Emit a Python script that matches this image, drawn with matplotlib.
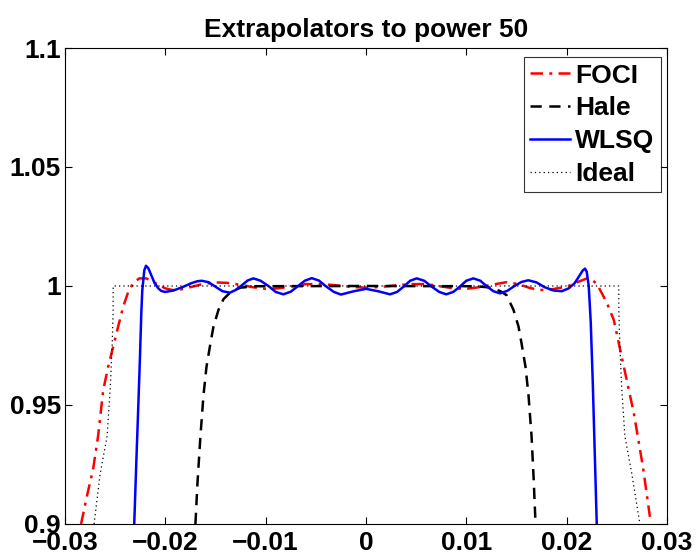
import matplotlib
matplotlib.use("Agg")
import matplotlib.pyplot as plt

plt.rcParams['font.family'] = ['Liberation Sans', 'DejaVu Sans']
plt.rcParams['font.weight'] = 'bold'

# FOCI extrapolator (red dash-dot)
foci_x = [-0.0284, -0.0278, -0.0272, -0.0267, -0.0262, -0.0257, -0.0252, -0.0247, -0.0242,
          -0.0237, -0.0232, -0.0226, -0.0219, -0.0213, -0.0207, -0.0200, -0.0193, -0.0185,
          -0.0175, -0.0163, -0.0150, -0.0138, -0.0125, -0.0113, -0.0100, -0.0088, -0.0075,
          -0.0060, -0.0045, -0.0030, -0.0015, 0.0,
          0.0015, 0.0030, 0.0045, 0.0060, 0.0075, 0.0088, 0.0100, 0.0113, 0.0125, 0.0140,
          0.0152, 0.0163, 0.0173, 0.0185, 0.0200, 0.0210, 0.0222, 0.0230, 0.0240, 0.0247,
          0.0257, 0.0267, 0.0276, 0.0283]
foci_y = [0.900, 0.912, 0.923, 0.937, 0.956, 0.966, 0.9745, 0.983, 0.9913,
          0.9975, 1.0013, 1.0032, 1.0032, 1.0020, 1.0004, 0.9990, 0.9983, 0.9985,
          0.9995, 1.0008, 1.0015, 1.0013, 1.0005, 0.9995, 0.9988, 0.9990, 0.9998,
          1.0008, 1.0008, 1.0003, 0.9996, 0.9993,
          0.9996, 1.0003, 1.0008, 1.0008, 0.9998, 0.9990, 0.9988, 0.9995, 1.0005, 1.0016,
          1.0008, 0.9992, 0.9983, 0.9986, 0.9997, 1.0015, 1.0035, 1.0010, 0.9930, 0.9857,
          0.9661, 0.9465, 0.9241, 0.9030]

# Hale extrapolator (black dashed)
hale_x = [-0.0170, -0.0168, -0.0165, -0.0162, -0.0159, -0.0155, -0.0152, -0.0147, -0.0142,
          -0.0134, -0.0125, -0.0110, 0.0,
          0.0110, 0.0125, 0.0134, 0.0140, 0.0147, 0.0152, 0.0155, 0.0159, 0.0162, 0.0165,
          0.0167, 0.0169]
hale_y = [0.900, 0.917, 0.937, 0.954, 0.966, 0.976, 0.983, 0.990, 0.9945,
          0.9978, 0.9993, 0.9999, 1.0,
          0.9999, 0.9993, 0.9978, 0.9962, 0.990, 0.983, 0.976, 0.966, 0.954, 0.937,
          0.920, 0.900]

# WLSQ extrapolator (blue solid)
wlsq_x = [-0.0231, -0.0229, -0.0227, -0.02253, -0.0224, -0.0223, -0.0221, -0.02193, -0.0217,
          -0.0214, -0.0211, -0.0207, -0.0204, -0.02003, -0.0192, -0.0183, -0.0174, -0.0168,
          -0.01638, -0.0157, -0.0150, -0.0143, -0.01356, -0.0130, -0.0124, -0.0118, -0.01123,
          -0.0105, -0.0097, -0.0090, -0.00824, -0.0075, -0.0068, -0.0061, -0.00541, -0.0047,
          -0.0040, -0.0032, -0.0025, -0.0012, 0.0,
          0.0012, 0.0024, 0.0031, 0.0038, 0.0044, 0.00505, 0.0058, 0.0065, 0.0073, 0.0080,
          0.0087, 0.0094, 0.0100, 0.0107, 0.0114, 0.0120, 0.0127, 0.01336, 0.0141, 0.0148,
          0.0155, 0.01618, 0.0170, 0.0178, 0.0187, 0.0195, 0.0202, 0.0208, 0.0213, 0.0216,
          0.02183, 0.0220, 0.0222, 0.0224, 0.0226, 0.0228, 0.0230]
wlsq_y = [0.900, 0.925, 0.949, 0.970, 0.988, 0.998, 1.0065, 1.0085, 1.0075,
          1.0045, 1.0015, 0.9990, 0.9979, 0.9975, 0.9981, 0.9995, 1.0012, 1.0020,
          1.0022, 1.0016, 0.9997, 0.9978, 0.9972, 0.9983, 1.0002, 1.0023, 1.0032,
          1.0022, 0.9999, 0.9975, 0.9965, 0.9976, 0.9999, 1.0022, 1.0033, 1.0023,
          0.9999, 0.9975, 0.9964, 0.9978, 0.9988,
          0.9978, 0.9965, 0.9975, 0.9999, 1.0022, 1.0032, 1.0022, 0.9999, 0.9975, 0.9965,
          0.9975, 0.9999, 1.0022, 1.0032, 1.0022, 1.0000, 0.9978, 0.9969, 0.9980, 1.0000,
          1.0017, 1.0024, 1.0015, 0.9995, 0.9981, 0.9978, 0.9990, 1.0012, 1.0045, 1.0065,
          1.0073, 1.0060, 1.0000, 0.985, 0.960, 0.930, 0.900]

# Ideal response (dotted)
ideal_x = [-0.0271, -0.0265, -0.0258, -0.02548, -0.0253, -0.0252, -0.0252,
           0.0252, 0.0252, 0.0253, 0.02548, 0.0258, 0.0265, 0.0273]
ideal_y = [0.900, 0.921, 0.937, 0.958, 0.975, 0.990, 1.000,
           1.000, 0.990, 0.975, 0.958, 0.937, 0.921, 0.900]

xticks = [-0.03, -0.02, -0.01, 0, 0.01, 0.02, 0.03]
xticklabels = ['\u22120.03', '\u22120.02', '\u22120.01', '0', '0.01', '0.02', '0.03']
yticks = [0.9, 0.95, 1.0, 1.05, 1.1]
yticklabels = ['0.9', '0.95', '1', '1.05', '1.1']

fig = plt.figure(figsize=(6.96, 5.55), dpi=100)
ax = fig.add_axes([0.0934, 0.0559, 0.8649, 0.8576])

ax.plot(foci_x, foci_y, color='red', linestyle=(0, (5, 2.5, 1.2, 2.5)), linewidth=1.8, label='FOCI')
ax.plot(hale_x, hale_y, color='black', linestyle=(0, (4.5, 3)), linewidth=1.8, label='Hale')
ax.plot(wlsq_x, wlsq_y, color='blue', linestyle='-', linewidth=1.8, label='WLSQ')
ax.plot(ideal_x, ideal_y, color='black', linestyle=(0, (1, 2.5)), linewidth=0.9, label='Ideal')

ax.set_xlim(-0.03, 0.03)
ax.set_ylim(0.9, 1.1)
ax.set_xticks(xticks)
ax.set_xticklabels(xticklabels)
ax.set_yticks(yticks)
ax.set_yticklabels(yticklabels)
ax.tick_params(direction='in', top=True, right=True, length=5, width=0.8,
               labelsize=19, pad=3)
ax.tick_params(axis='x', pad=5)
for s in ax.spines.values():
    s.set_linewidth(0.8)

ax.set_title('Extrapolators to power 50', fontsize=19, fontweight='bold', pad=8)

leg = ax.legend(loc='upper right', bbox_to_anchor=(0.990, 0.981), fontsize=19,
                frameon=True, fancybox=False, edgecolor='black', handlelength=1.5,
                handletextpad=0.2, labelspacing=0.33, borderpad=0.25, borderaxespad=0)
leg.get_frame().set_linewidth(0.8)

fig.savefig('out.png', dpi=100)
